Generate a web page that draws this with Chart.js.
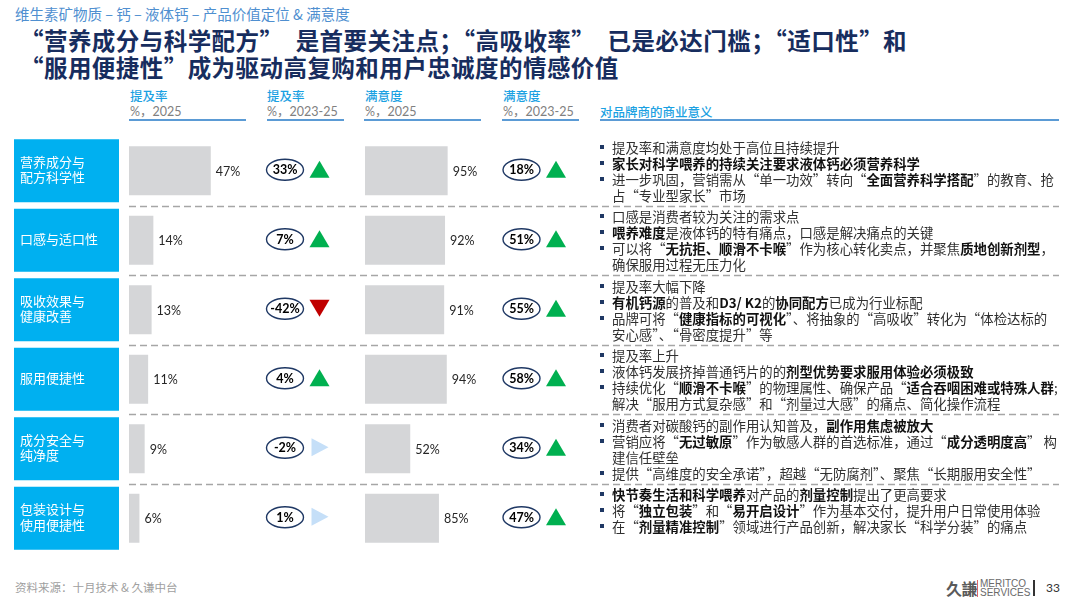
<!DOCTYPE html>
<html>
<head>
<meta charset="utf-8">
<script src="https://cdn.jsdelivr.net/npm/chart.js@4.4.1/dist/chart.umd.min.js"></script>
<style>
  html, body { margin: 0; padding: 0; background: #fff; }
  body { width: 1080px; height: 608px; position: relative; overflow: hidden;
         font-family: "Noto Sans CJK SC", "Noto Sans", sans-serif; color: #262626; }
  .abs { position: absolute; white-space: nowrap; }
  #sub { left: 15px; top: 3px; font-size: 14.5px; color: #4f8fd0; }
  .title { left: 20px; font-size: 23.5px; font-weight: 700; color: #172d5e; line-height: 28px; letter-spacing: 0.45px; }
  .colhead { font-size: 12.5px; line-height: 16px; }
  .colhead .t { color: #1ba1e2; font-weight: 500; }
  .colhead .u { color: #808080; font-family: Lato, "Noto Sans CJK SC", sans-serif; }
  .uline { position: absolute; height: 2px; background: #5b9bd5; top: 119px; }
  #chartBox { position: absolute; left: 0; top: 136px; width: 1080px; height: 417px; }
  .block { position: absolute; left: 597px; font-size: 13.4px; line-height: 16px; }
  .b { position: relative; padding-left: 15px; white-space: nowrap; color: #303030; }
  .b::before { content: ""; position: absolute; left: 3px; top: 6px; width: 4px; height: 4px; background: #1f3864; }
  .b strong { font-weight: 700; color: #111; }
  #src { left: 15px; top: 579px; font-size: 11.5px; color: #a0a0a0; }
</style>
</head>
<body>
<div id="sub" class="abs">维生素矿物质 – 钙 – 液体钙 – 产品价值定位 &amp; 满意度</div>
<div class="abs title" style="top:26px">“营养成分与科学配方”　是首要关注点；“高吸收率”　已是必达门槛；“适口性”和</div>
<div class="abs title" style="top:53px">“服用便捷性”成为驱动高复购和用户忠诚度的情感价值</div>

<div class="abs colhead" style="left:130px;top:88px"><div class="t">提及率</div><div class="u">%，2025</div></div>
<div class="abs colhead" style="left:267px;top:88px"><div class="t">提及率</div><div class="u">%，2023-25</div></div>
<div class="abs colhead" style="left:365px;top:88px"><div class="t">满意度</div><div class="u">%，2025</div></div>
<div class="abs colhead" style="left:503px;top:88px"><div class="t">满意度</div><div class="u">%，2023-25</div></div>
<div class="abs colhead" style="left:600px;top:104px"><div class="t">对品牌商的商业意义</div></div>
<div class="uline" style="left:129px;width:117px"></div>
<div class="uline" style="left:267px;width:77px"></div>
<div class="uline" style="left:364px;width:117px"></div>
<div class="uline" style="left:502px;width:77px"></div>
<div class="uline" style="left:600px;width:459px"></div>

<div id="chartBox"><canvas id="grafico" width="1080" height="417"></canvas></div>

<div id="notes"></div>

<div id="src" class="abs">资料来源：十月技术 &amp; 久谦中台</div>
<div class="abs" style="left:946px;top:576px;font-size:16px;font-weight:700;color:#5a5a5a;letter-spacing:-0.5px">久謙</div>
<div class="abs" style="left:977px;top:580px;width:1px;height:17px;background:#e06666"></div>
<div class="abs" style="left:980px;top:579px;font-size:10px;line-height:9px;color:#6a6a6a;font-family:'Liberation Sans',sans-serif">MERITCO<br>SERVICES</div>
<div class="abs" style="left:1033px;top:580px;width:1.5px;height:16px;background:#333"></div>
<div class="abs" style="left:1046px;top:580px;font-size:12px;color:#333;font-family:Lato,sans-serif">33</div>

<script>
// 维度（行）
const categorias = [
  ["营养成分与", "配方科学性"],
  ["口感与适口性"],
  ["吸收效果与", "健康改善"],
  ["服用便捷性"],
  ["成分安全与", "纯净度"],
  ["包装设计与", "使用便捷性"]
];

// 提及率 %，2025 / 变化 2023-25
const mencao2025 = [47, 14, 13, 11, 9, 6];
const mencaoVar = [33, 7, -42, 4, -2, 1];
const mencaoTend = ["up", "up", "down", "up", "flat", "flat"];

// 满意度 %，2025 / 变化 2023-25
const satisf2025 = [95, 92, 91, 94, 52, 85];
const satisfVar = [18, 51, 55, 58, 34, 47];
const satisfTend = ["up", "up", "up", "up", "up", "up"];

// 对品牌商的商业意义（** 表示加粗，| 表示换行）
const notas = [
  ["提及率和满意度均处于高位且持续提升",
   "**家长对科学喂养的持续关注要求液体钙必须营养科学**",
   "进一步巩固，营销需从“单一功效”转向“**全面营养科学搭配**”的教育、抢|占“专业型家长”市场"],
  ["口感是消费者较为关注的需求点",
   "**喂养难度**是液体钙的特有痛点，口感是解决痛点的关键",
   "可以将“**无抗拒、顺滑不卡喉**”作为核心转化卖点，并聚焦**质地创新剂型**，|确保服用过程无压力化"],
  ["提及率大幅下降",
   "**有机钙源**的普及和**D3/ K2**的**协同配方**已成为行业标配",
   "品牌可将“**健康指标的可视化**”、将抽象的“高吸收”转化为“体检达标的|安心感”、“骨密度提升”等"],
  ["提及率上升",
   "液体钙发展挤掉普通钙片的的**剂型优势要求服用体验必须极致**",
   "持续优化“**顺滑不卡喉**”的物理属性、确保产品“**适合吞咽困难或特殊人群**;|解决“服用方式复杂感”和“剂量过大感”的痛点、简化操作流程"],
  ["消费者对碳酸钙的副作用认知普及，**副作用焦虑被放大**",
   "营销应将“**无过敏原**”作为敏感人群的首选标准，通过“**成分透明度高**” 构|建信任壁垒",
   "提供“高维度的安全承诺”，超越“无防腐剂”、聚焦“长期服用安全性”"],
  ["**快节奏生活和科学喂养**对产品的**剂量控制**提出了更高要求",
   "将“**独立包装**”和“**易开启设计**”作为基本交付，提升用户日常使用体验",
   "在“**剂量精准控制**”领域进行产品创新，解决家长“科学分装”的痛点"]
];

const PX_MENCAO = 1.74;   // px por ponto percentual
const PX_SATISF = 0.87;
const ESQ = 129, DIR = 1060;
const larguraArea = DIR - ESQ;
const zeroSatisf = 365;

// Colunas de texto à direita
const rowH = 417 / categorias.length;
const notesEl = document.getElementById("notes");
notas.forEach((linhas, i) => {
  const bloco = document.createElement("div");
  bloco.className = "block";
  bloco.style.top = (136 + i * rowH + 2.5) + "px";
  linhas.forEach(l => {
    const d = document.createElement("div");
    d.className = "b";
    d.innerHTML = l.replace(/\*\*(.+?)\*\*/g, "<strong>$1</strong>").replace("|", "<br>");
    bloco.appendChild(d);
  });
  notesEl.appendChild(bloco);
});

function triangulo(ctx, x, y, tipo) {
  ctx.beginPath();
  if (tipo === "up") {
    ctx.fillStyle = "#00b050";
    ctx.moveTo(x, y - 8.5); ctx.lineTo(x + 10, y + 8.5); ctx.lineTo(x - 10, y + 8.5);
  } else if (tipo === "down") {
    ctx.fillStyle = "#c00000";
    ctx.moveTo(x - 10, y - 8.5); ctx.lineTo(x + 10, y - 8.5); ctx.lineTo(x, y + 8.5);
  } else {
    ctx.fillStyle = "#c5dff8";
    ctx.moveTo(x - 8, y - 9); ctx.lineTo(x + 9, y); ctx.lineTo(x - 8, y + 9);
  }
  ctx.closePath();
  ctx.fill();
}

function oval(ctx, x, y, v) {
  ctx.beginPath();
  ctx.ellipse(x, y, 18.5, 10.5, 0, 0, Math.PI * 2);
  ctx.fillStyle = "#fff";
  ctx.fill();
  ctx.lineWidth = 1.4;
  ctx.strokeStyle = "#1f3864";
  ctx.stroke();
  ctx.fillStyle = "#000";
  ctx.font = "bold 12.5px Lato, sans-serif";
  ctx.textAlign = "center";
  ctx.textBaseline = "middle";
  ctx.fillText(v + "%", x, y + 0.5);
}

const decoracao = {
  id: "decoracao",
  beforeDatasetsDraw(chart) {
    const ctx = chart.ctx;
    const y = chart.scales.y;
    ctx.save();
    // caixas azuis com o nome da dimensão
    categorias.forEach((c, i) => {
      const cy = y.getPixelForValue(i);
      ctx.fillStyle = "#00b0f0";
      ctx.fillRect(14, cy - 31.5, 105, 63);
      ctx.fillStyle = "#fff";
      ctx.font = "13px 'Noto Sans CJK SC', sans-serif";
      ctx.textAlign = "left";
      ctx.textBaseline = "middle";
      const lh = 15.5;
      c.forEach((t, k) => ctx.fillText(t, 20, cy - 1 + (k - (c.length - 1) / 2) * lh));
    });
    // linhas tracejadas entre as linhas
    ctx.strokeStyle = "#a6a6a6";
    ctx.lineWidth = 1.5;
    ctx.setLineDash([7, 4]);
    for (let i = 0; i < categorias.length - 1; i++) {
      const ly = Math.round((y.getPixelForValue(i) + y.getPixelForValue(i + 1)) / 2) + 0.5;
      ctx.beginPath();
      ctx.moveTo(ESQ, ly);
      ctx.lineTo(DIR - 1, ly);
      ctx.stroke();
    }
    ctx.restore();
  },
  afterDatasetsDraw(chart) {
    const ctx = chart.ctx;
    const y = chart.scales.y, xp = chart.scales.xp, xs = chart.scales.xs;
    ctx.save();
    categorias.forEach((_, i) => {
      const cy = y.getPixelForValue(i);
      ctx.font = "12.5px Lato, sans-serif";
      ctx.fillStyle = "#262626";
      ctx.textAlign = "left";
      ctx.textBaseline = "middle";
      ctx.fillText(mencao2025[i] + "%", xp.getPixelForValue(mencao2025[i]) + 5, cy + 1);
      ctx.fillText(satisf2025[i] + "%", xs.getPixelForValue(satisf2025[i]) + 5, cy + 1);
      oval(ctx, 285, cy - 1, mencaoVar[i]);
      triangulo(ctx, 319.5, cy - 1.5, mencaoTend[i]);
      oval(ctx, 521.5, cy - 1, satisfVar[i]);
      triangulo(ctx, 556, cy - 1.5, satisfTend[i]);
    });
    ctx.restore();
  }
};

const ctx = document.getElementById("grafico").getContext("2d");
const minSatisf = -(zeroSatisf - ESQ) / PX_SATISF;
new Chart(ctx, {
  type: "bar",
  data: {
    labels: categorias.map(c => c.join("")),
    datasets: [
      { label: "提及率 2025", data: mencao2025, xAxisID: "xp", yAxisID: "y",
        backgroundColor: "#d5d6d8", grouped: false, barPercentage: 0.705, categoryPercentage: 1 },
      { label: "满意度 2025", data: satisf2025, xAxisID: "xs", yAxisID: "y",
        backgroundColor: "#d5d6d8", grouped: false, barPercentage: 0.705, categoryPercentage: 1 }
    ]
  },
  options: {
    indexAxis: "y",
    responsive: false,
    animation: false,
    devicePixelRatio: 1,
    layout: { padding: { left: ESQ, right: 1080 - DIR, top: 0, bottom: 0 } },
    plugins: { legend: { display: false }, tooltip: { enabled: false } },
    scales: {
      y: { type: "category", display: false, offset: true },
      xp: { type: "linear", axis: "x", display: false, min: 0, max: larguraArea / PX_MENCAO },
      xs: { type: "linear", axis: "x", display: false, min: minSatisf, max: minSatisf + larguraArea / PX_SATISF }
    }
  },
  plugins: [decoracao]
});
</script>
</body>
</html>
